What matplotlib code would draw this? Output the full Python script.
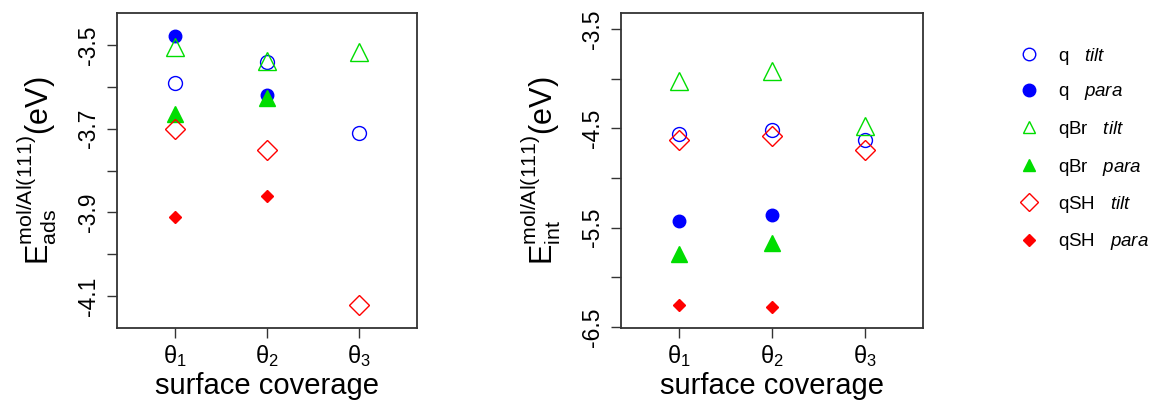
import matplotlib
matplotlib.use("Agg")
import matplotlib.pyplot as plt
from matplotlib.lines import Line2D

plt.rcParams['font.family'] = ['Liberation Sans', 'DejaVu Sans']
plt.rcParams['mathtext.fontset'] = 'custom'
plt.rcParams['mathtext.rm'] = 'Liberation Sans'
plt.rcParams['mathtext.it'] = 'Liberation Sans:italic'
plt.rcParams['mathtext.bf'] = 'Liberation Sans:bold'

# coverage positions and labels
coverage = [1, 2, 3]
coverage_labels = [r'$\mathregular{\theta_1}$', r'$\mathregular{\theta_2}$', r'$\mathregular{\theta_3}$']

# adsorption energies (eV)
ads_q_tilt = [-3.59, -3.54, -3.71]
ads_q_para = [-3.479, -3.619]
ads_qBr_tilt = [-3.505, -3.538, -3.518]
ads_qBr_para = [-3.665, -3.628]
ads_qSH_tilt = [-3.70, -3.75, -4.12]
ads_qSH_para = [-3.91, -3.86]

# interaction energies (eV)
int_q_tilt = [-4.56, -4.52, -4.62]
int_q_para = [-5.43, -5.37]
int_qBr_tilt = [-4.02, -3.92, -4.48]
int_qBr_para = [-5.77, -5.65]
int_qSH_tilt = [-4.62, -4.58, -4.72]
int_qSH_para = [-6.28, -6.30]

series_names = ['q   $\\it{tilt}$', 'q   $\\it{para}$', 'qBr   $\\it{tilt}$',
                'qBr   $\\it{para}$', 'qSH   $\\it{tilt}$', 'qSH   $\\it{para}$']

BLUE = '#0000FF'
GREEN = '#00DD00'
RED = '#FF0000'

styles = [
    dict(marker='o', ms=10, mfc='none', mec=BLUE, mew=1.0),
    dict(marker='o', ms=9, mfc=BLUE, mec=BLUE, mew=1.0),
    dict(marker='^', ms=13, mfc='none', mec=GREEN, mew=1.0),
    dict(marker='^', ms=11, mfc=GREEN, mec=GREEN, mew=1.0),
    dict(marker='D', ms=10, mfc='none', mec=RED, mew=1.0),
    dict(marker='D', ms=6, mfc=RED, mec=RED, mew=1.0),
]

fig = plt.figure(figsize=(11.63, 4.03), dpi=100)
ax1 = fig.add_axes([117/1163, 75/403, 300/1163, 315/403])
ax2 = fig.add_axes([621/1163, 75/403, 302/1163, 315/403])

ads_sets = [ads_q_tilt, ads_q_para, ads_qBr_tilt, ads_qBr_para, ads_qSH_tilt, ads_qSH_para]
int_sets = [int_q_tilt, int_q_para, int_qBr_tilt, int_qBr_para, int_qSH_tilt, int_qSH_para]

for ax, sets in ((ax1, ads_sets), (ax2, int_sets)):
    for vals, st in zip(sets, styles):
        ax.plot(coverage[:len(vals)], vals, linestyle='none', **st)
    ax.set_xlim(0.37, 3.63)
    ax.set_xticks(coverage)
    ax.set_xticklabels(coverage_labels, fontsize=17)
    ax.tick_params(axis='both', direction='out', length=7, width=1, color='#333333', pad=5)
    ax.tick_params(axis='x', pad=4)
    for s in ax.spines.values():
        s.set_linewidth(1.3)
        s.set_color('#333333')
    ax.set_xlabel('surface coverage', fontsize=21, labelpad=2)

ax1.set_ylim(-4.176, -3.424)
ax1.set_yticks([-3.5, -3.6, -3.7, -3.8, -3.9, -4.0, -4.1])
ax1.set_yticklabels(['-3.5', '', '-3.7', '', '-3.9', '', '-4.1'], rotation=90, va='center', fontsize=16.5)
ax1.set_ylabel(r'$\mathregular{E_{ads}^{mol/Al(111)}}$(eV)', fontsize=22, labelpad=13)

ax2.set_ylim(-6.51, -3.34)
ax2.set_yticks([-3.5, -4.0, -4.5, -5.0, -5.5, -6.0, -6.5])
ax2.set_yticklabels(['-3.5', '', '-4.5', '', '-5.5', '', '-6.5'], rotation=90, va='center', fontsize=16.5)
ax2.set_ylabel(r'$\mathregular{E_{int}^{mol/Al(111)}}$(eV)', fontsize=22, labelpad=13)

handles = [Line2D([], [], linestyle='none', **{**st, 'ms': min(st['ms'], 9)}) for st in styles]
fig.legend(handles, series_names, loc='upper left', bbox_to_anchor=(998/1163, 1 - 29/403),
           frameon=False, fontsize=13.5, labelspacing=0.88, handletextpad=0.8, handlelength=1.5)

fig.savefig('out.png', dpi=100)
